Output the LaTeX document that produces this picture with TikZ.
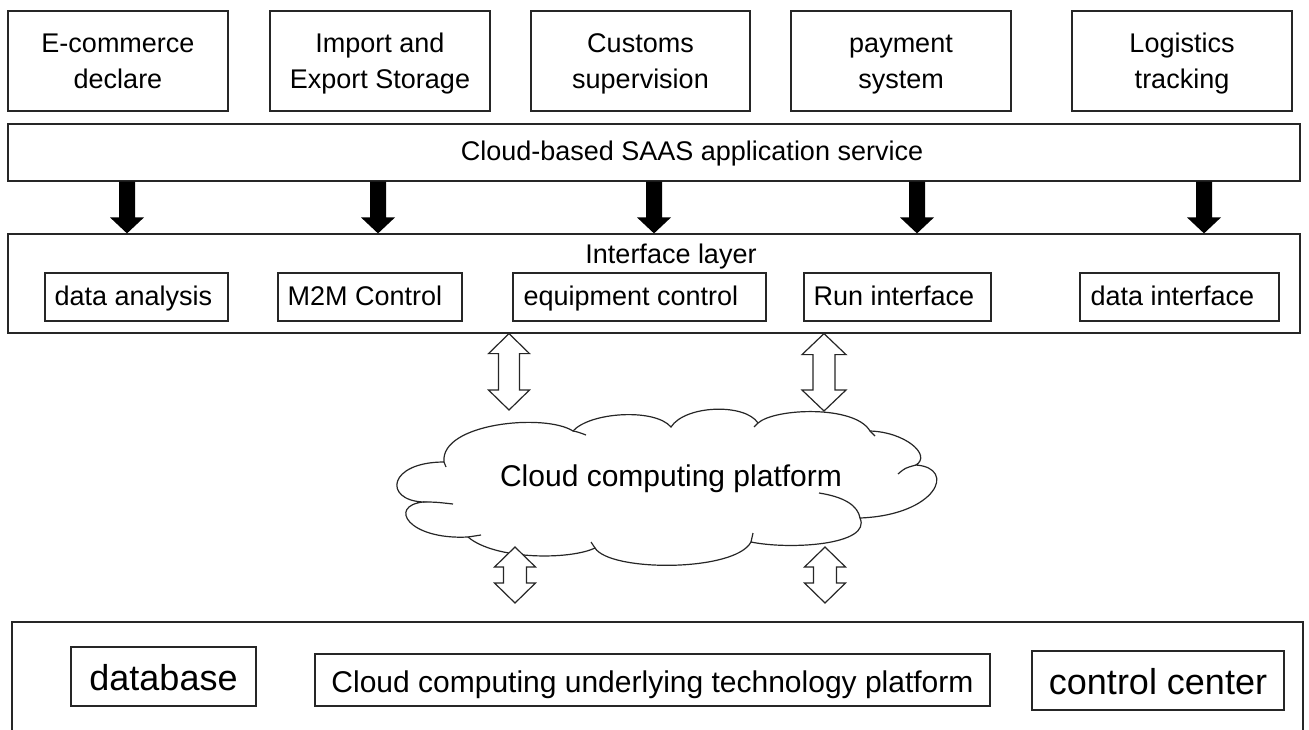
\documentclass[tikz,border=0pt]{standalone}
\usepackage{fontspec}
\setmainfont{Liberation Sans}
\usetikzlibrary{calc,fit}
\newcommand\fsA{\fontsize{20.25pt}{27pt}\selectfont}
\newcommand\fsB{\fontsize{22.5pt}{27pt}\selectfont}
\newcommand\fsC{\fontsize{27pt}{32pt}\selectfont}
% solid block arrow pointing down: #1 shaft top, #2 tip
\newcommand\blkarr[2]{%
  \fill[black] ($(#1)+(-8,0)$) -- ($(#1)+(8,0)$) -- ($(#2)+(8,-16)$) -- ($(#2)+(17,-16)$)
    -- (#2) -- ($(#2)+(-17,-16)$) -- ($(#2)+(-8,-16)$) -- cycle;}
% hollow double-headed arrow: #1 upper tip, #2 lower tip,
% #3 head half width, #4 shaft half width, #5 head length
\newcommand\dblarr[5]{%
  \filldraw[fill=white,draw=black!85,line width=0.9pt,line join=miter]
    (#1) -- ($(#1)+(#3,#5)$) -- ($(#1)+(#4,#5)$) -- ($(#2)+(#4,-#5)$) -- ($(#2)+(#3,-#5)$)
    -- (#2) -- ($(#2)+(-#3,-#5)$) -- ($(#2)+(-#4,-#5)$) -- ($(#1)+(-#4,#5)$)
    -- ($(#1)+(-#3,#5)$) -- cycle;}
\begin{document}
\begin{tikzpicture}[x=0.75pt,y=-0.75pt,
  box/.style={draw=black!85,line width=0.9pt,inner sep=0pt,fit={#1}},
  twoline/.style={font=\fsA,align=center,inner sep=0pt},
  lbl/.style={font=\fsA,anchor=base west,inner sep=0pt},
  basetxt/.style={anchor=base,inner sep=0pt},
  cloudline/.style={draw=black!85,line width=0.9pt}]
\useasboundingbox (0,0) rectangle (1309,729);

% application row
\node[box={(8,11)(228,111)}] (ecom) {};
\node[box={(270,11)(490,111)}] (imex) {};
\node[box={(531,11)(750,111)}] (cust) {};
\node[box={(791,11)(1011,111)}] (pay) {};
\node[box={(1072,11)(1292,111)}] (logi) {};
\node[twoline] (ecomtxt) at ($(ecom.center)+(0,2)$) {E-commerce\strut\\declare\strut};
\node[twoline] (imextxt) at ($(imex.center)+(0,2)$) {Import and\strut\\Export Storage\strut};
\node[twoline] (custtxt) at ($(cust.center)+(0,2)$) {Customs\strut\\supervision\strut};
\node[twoline] (paytxt) at ($(pay.center)+(0,2)$) {payment\strut\\system\strut};
\node[twoline] (logitxt) at ($(logi.center)+(0,2)$) {Logistics\strut\\tracking\strut};

% SAAS layer
\node[box={(8,124)(1300,181)}] (saas) {};
\node[basetxt,font=\fsA] (saastxt) at (692,160) {Cloud-based SAAS application service};

% interface layer
\node[box={(8,234)(1300,333)}] (iface) {};
\node[basetxt,font=\fsA] (ifacetxt) at (671,263) {Interface layer};
\node[box={(45,273)(228,321)}] (da) {};
\node[lbl] (datxt) at ($(da.west)+(10,8)$) {data analysis};
\node[box={(278,273)(462,321)}] (m2m) {};
\node[lbl] (m2mtxt) at ($(m2m.west)+(10,8)$) {M2M Control};
\node[box={(513,273)(766,321)}] (eq) {};
\node[lbl] (eqtxt) at ($(eq.west)+(11,8)$) {equipment control};
\node[box={(804,273)(991,321)}] (run) {};
\node[lbl] (runtxt) at ($(run.west)+(10,8)$) {Run interface};
\node[box={(1080,273)(1279,321)}] (di) {};
\node[lbl] (ditxt) at ($(di.west)+(11,8)$) {data interface};

% solid arrows from SAAS to interface layer
\coordinate (x1) at (127,0);
\coordinate (x2) at (378,0);
\coordinate (x3) at (654,0);
\coordinate (x4) at (917,0);
\coordinate (x5) at (1204,0);
\blkarr{saas.south -| x1}{iface.north -| x1}
\blkarr{saas.south -| x2}{iface.north -| x2}
\blkarr{saas.south -| x3}{iface.north -| x3}
\blkarr{saas.south -| x4}{iface.north -| x4}
\blkarr{saas.south -| x5}{iface.north -| x5}

% cloud outline
\filldraw[fill=white,draw=black!85,line width=0.9pt]
  (423,502) .. controls (383,500) and (388,462) .. (444,462)
  .. controls (440,423) and (545,413) .. (573,431)
  .. controls (590,412) and (655,408) .. (671,427)
  .. controls (685,405) and (745,403) .. (758,423)
  .. controls (775,408) and (855,405) .. (870,431)
  .. controls (905,432) and (932,455) .. (916,465)
  .. controls (957,468) and (937,515) .. (860,518)
  .. controls (872,545) and (790,550) .. (751,542)
  .. controls (735,572) and (610,572) .. (595,548)
  .. controls (570,560) and (495,560) .. (468,537)
  .. controls (408,540) and (388,506) .. (423,502) -- cycle;
% inner ends of the cloud puffs
\draw[cloudline] (573,431) .. controls (578,432) .. (586,435);
\draw[cloudline] (758,423) -- (754,427);
\draw[cloudline] (870,431) -- (875,436);
\draw[cloudline] (898,474) .. controls (905,468) .. (916,465);
\draw[cloudline] (819,493) .. controls (845,497) and (858,506) .. (860,518);
\draw[cloudline] (751,542) -- (753,533);
\draw[cloudline] (595,548) -- (591,542);
\draw[cloudline] (468,537) -- (481,535);
\draw[cloudline] (423,502) .. controls (435,502) .. (453,504);
\draw[cloudline] (444,462) -- (446,467);
\node[basetxt,font=\fsB] (cloud) at (671,486) {Cloud computing platform};

% hollow double arrows
\coordinate (ax1) at (509,0);
\coordinate (ax2) at (824,0);
\coordinate (ca1) at (509,410);
\coordinate (ca2) at (824,411);
\dblarr{iface.south -| ax1}{ca1}{20.5}{10.5}{20}
\dblarr{iface.south -| ax2}{ca2}{22}{11}{21}
\coordinate (cb1) at (515,547);
\coordinate (cb2) at (515,603);
\coordinate (cb3) at (825,547);
\coordinate (cb4) at (825,603);
\dblarr{cb1}{cb2}{20.5}{11.5}{20}
\dblarr{cb3}{cb4}{20.5}{11.5}{20}

% base layer
\node[box={(12,622)(1303,760)}] (base) {};
\node[box={(71,647)(256,706)}] (db) {};
\node[box={(315,654)(990,706)}] (ccu) {};
\node[box={(1032,651)(1284,710)}] (cc) {};
\node[basetxt,font=\fsC] (dbtxt) at ($(db.center)+(0,13.5)$) {database};
\node[basetxt,font=\fsB] (ccutxt) at ($(ccu.center)+(0,12.5)$) {Cloud computing underlying technology platform};
\node[basetxt,font=\fsC] (cctxt) at ($(cc.center)+(0,13.5)$) {control center};
\end{tikzpicture}
\end{document}
